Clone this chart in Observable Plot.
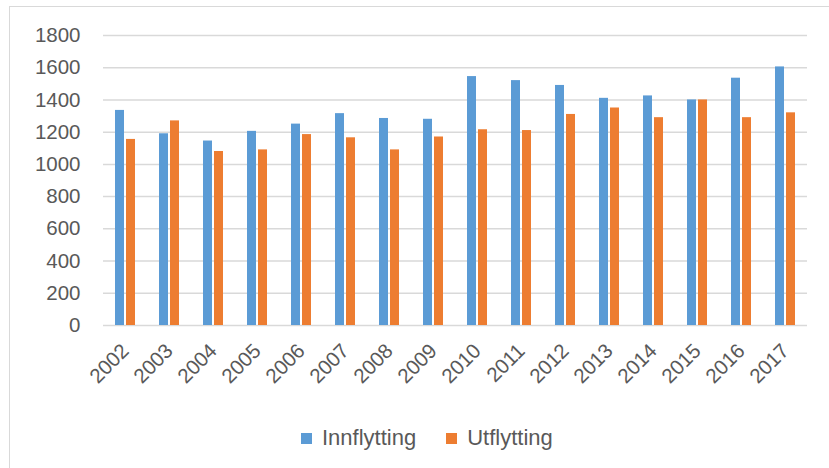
<!DOCTYPE html>
<html>
<head>
<meta charset="utf-8">
<script src="https://cdn.jsdelivr.net/npm/d3@7"></script>
<script src="https://cdn.jsdelivr.net/npm/@observablehq/plot@0.6"></script>
<style>
  html, body { margin: 0; padding: 0; background: #fff; }
  #wrap { position: relative; width: 829px; height: 468px; overflow: hidden; font-family: "Liberation Sans", Arial, sans-serif; }
  #frame { position: absolute; left: 9px; top: 6px; width: 900px; height: 600px; border: 1px solid #d9d9d9; box-sizing: border-box; }
  #chart { position: absolute; left: 0; top: 0; }
  #legend { position: absolute; left: 301px; top: 425px; display: flex; align-items: center; font-size: 22px; color: #595959; }
  .sw { display: inline-block; width: 11px; height: 11px; margin-right: 10px; }
  .item { display: flex; align-items: center; margin-right: 30px; }
</style>
</head>
<body>
<div id="wrap">
  <div id="frame"></div>
  <div id="chart"></div>
  <div id="legend"></div>
</div>
<script>
const years = ["2002","2003","2004","2005","2006","2007","2008","2009","2010","2011","2012","2013","2014","2015","2016","2017"];
const innflytting = [1335, 1190, 1145, 1205, 1250, 1315, 1285, 1280, 1545, 1520, 1490, 1410, 1425, 1400, 1535, 1605];
const utflytting  = [1155, 1270, 1080, 1090, 1185, 1165, 1090, 1170, 1215, 1210, 1310, 1350, 1290, 1400, 1290, 1320];
const seriesNames = ["Innflytting", "Utflytting"];
const seriesColors = ["#5B9BD5", "#ED7D31"];
const yTicks = [0, 200, 400, 600, 800, 1000, 1200, 1400, 1600, 1800];

const rows = [];
years.forEach((yr, i) => {
  rows.push({year: yr, series: seriesNames[0], value: innflytting[i]});
  rows.push({year: yr, series: seriesNames[1], value: utflytting[i]});
});

const chart = Plot.plot({
  width: 829,
  height: 410,
  marginLeft: 97,
  marginRight: 17,
  marginTop: 35,
  marginBottom: 85,
  style: {fontFamily: "'Liberation Sans', Arial, sans-serif", fontSize: "20.5px", color: "#595959", background: "transparent"},
  fx: {domain: years, paddingInner: 0, paddingOuter: 0, label: null},
  x: {domain: seriesNames, paddingInner: 0.1667, paddingOuter: 0.946, axis: null},
  y: {domain: [0, 1800], label: null},
  color: {domain: seriesNames, range: seriesColors},
  marks: [
    Plot.ruleY(yTicks, {stroke: "#d9d9d9", strokeWidth: 1.5}),
    Plot.barY(rows, {fx: "year", x: "series", y: "value", fill: "series"}),
    Plot.axisY({ticks: yTicks, tickFormat: d => String(d), tickSize: 0, tickPadding: 23, fill: "#595959", fontSize: "20.5px", label: null}),
    Plot.axisFx({anchor: "bottom", tickRotate: -45, tickSize: 0, tickPadding: 22, fill: "#595959", fontSize: "20.5px", label: null})
  ]
});
document.getElementById("chart").appendChild(chart);

const legend = document.getElementById("legend");
seriesNames.forEach((name, i) => {
  const item = document.createElement("div");
  item.className = "item";
  const sw = document.createElement("span");
  sw.className = "sw";
  sw.style.background = seriesColors[i];
  item.appendChild(sw);
  item.appendChild(document.createTextNode(name));
  legend.appendChild(item);
});
</script>
</body>
</html>
